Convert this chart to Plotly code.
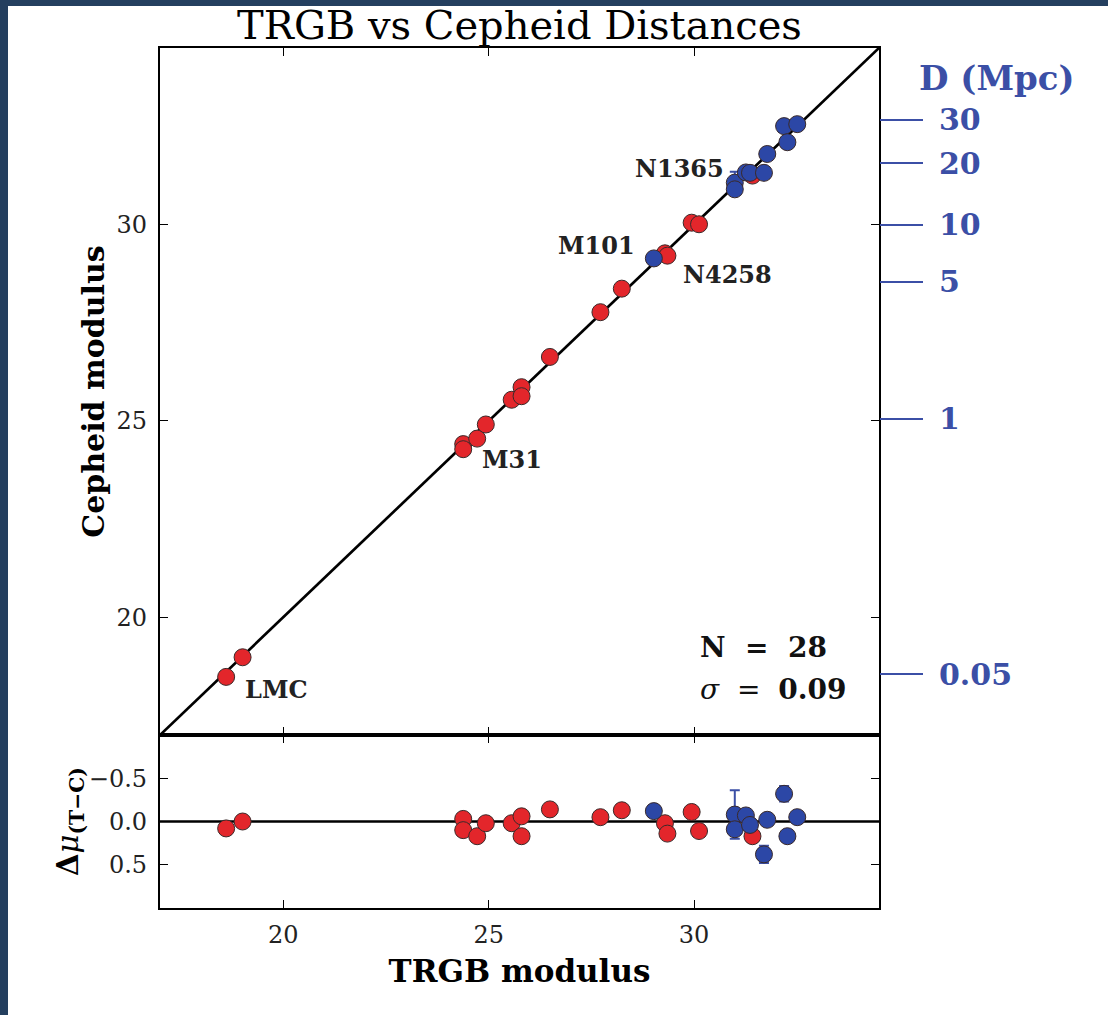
import plotly.graph_objects as go

# ---------------- data ----------------
red_trgb = [18.61, 19.01, 24.38, 24.38, 24.72, 24.93, 25.56, 25.80, 25.80, 26.49,
            27.72, 28.24, 29.29, 29.35, 29.94, 30.12, 31.42]
red_cepheid = [18.48, 18.98, 24.41, 24.28, 24.55, 24.91, 25.54, 25.86, 25.63, 26.63,
               27.77, 28.37, 29.27, 29.21, 30.05, 30.01, 31.25]
red_delta = [0.08, 0.00, -0.03, 0.10, 0.17, 0.02, 0.02, -0.06, 0.17, -0.14,
             -0.05, -0.13, 0.02, 0.14, -0.11, 0.11, 0.17]

blue_trgb = [29.02, 30.99, 30.99, 31.26, 31.36, 31.78, 31.70, 32.19, 32.27, 32.51]
blue_cepheid = [29.14, 31.07, 30.90, 31.33, 31.32, 31.80, 31.32, 32.51, 32.10, 32.56]
blue_delta = [-0.12, -0.08, 0.09, -0.07, 0.04, -0.02, 0.38, -0.32, 0.17, -0.05]
blue_err = [0.0, 0.28, 0.0, 0.0, 0.0, 0.0, 0.10, 0.09, 0.0, 0.0]

one_to_one = [17.0, 34.5]
zero_line_x = [17.0, 34.5]
zero_line_y = [0.0, 0.0]

# distance axis (Mpc) tick positions in modulus units and their labels
dist_tick_mu = [32.67, 31.57, 30.0, 28.54, 25.05, 18.55]
dist_tick_text = ["30", "20", "10", "5", "1", "0.05"]

labels = ["LMC", "M31", "M101", "N4258", "N1365"]
label_x = [19.02, 24.79, 28.61, 29.68, 30.77]
label_y = [18.15, 24.01, 29.48, 28.72, 31.44]
label_anchor = ["left", "left", "right", "left", "right"]

# ---------------- styling ----------------
FONT = "DejaVu Serif"
RED = "#e3262b"
BLUE = "#2c47a6"
LBLUE = "#3b4fa6"
EDGE = "#3a2a2a"
NB = "\u00a0"

fig = go.Figure()

fig.add_trace(go.Scatter(x=one_to_one, y=one_to_one, mode="lines",
                         line=dict(color="black", width=2.7),
                         xaxis="x", yaxis="y", showlegend=False, hoverinfo="skip"))
fig.add_trace(go.Scatter(x=red_trgb, y=red_cepheid, mode="markers",
                         marker=dict(color=RED, size=17, line=dict(color=EDGE, width=1)),
                         xaxis="x", yaxis="y", showlegend=False))
fig.add_trace(go.Scatter(x=blue_trgb, y=blue_cepheid, mode="markers",
                         marker=dict(color=BLUE, size=17, line=dict(color=EDGE, width=1)),
                         error_y=dict(type="data", array=blue_err, visible=True,
                                      color=LBLUE, thickness=2, width=5),
                         xaxis="x", yaxis="y", showlegend=False))

fig.add_trace(go.Scatter(x=zero_line_x, y=zero_line_y, mode="lines",
                         line=dict(color="black", width=2.5),
                         xaxis="x2", yaxis="y2", showlegend=False, hoverinfo="skip"))
fig.add_trace(go.Scatter(x=red_trgb, y=red_delta, mode="markers",
                         marker=dict(color=RED, size=17, line=dict(color=EDGE, width=1)),
                         xaxis="x2", yaxis="y2", showlegend=False))
fig.add_trace(go.Scatter(x=blue_trgb, y=blue_delta, mode="markers",
                         marker=dict(color=BLUE, size=17, line=dict(color=EDGE, width=1)),
                         error_y=dict(type="data", array=blue_err, visible=True,
                                      color=LBLUE, thickness=2, width=5),
                         xaxis="x2", yaxis="y2", showlegend=False))

# invisible trace to activate the distance axis
fig.add_trace(go.Scatter(x=one_to_one, y=one_to_one, mode="lines",
                         line=dict(color="rgba(0,0,0,0)"), xaxis="x", yaxis="y3",
                         showlegend=False, hoverinfo="skip"))

split = 173 / 860

axis_common = dict(showline=True, linecolor="black", linewidth=2.2, mirror="ticks",
                   ticks="inside", ticklen=8, tickwidth=1.2, tickcolor="black",
                   showgrid=False, zeroline=False,
                   tickfont=dict(family=FONT, size=24, color="#222"))

fig.update_layout(
    width=1108, height=1015,
    margin=dict(l=160, r=229, t=48, b=107),
    paper_bgcolor="#243f5f", plot_bgcolor="white",
    font=dict(family=FONT, color="black"),
    title=dict(text="TRGB vs Cepheid Distances", x=0.5, xref="paper",
               y=1 - 25 / 1015, yref="container", yanchor="middle",
               font=dict(family=FONT, size=40, color="black")),
    xaxis=dict(axis_common, domain=[0, 1], anchor="y", range=one_to_one,
               tickvals=[20, 25, 30], showticklabels=False),
    yaxis=dict(axis_common, domain=[split, 1], anchor="x", range=one_to_one,
               tickvals=[20, 25, 30], ticklabelstandoff=6,
               title=dict(text="<b>Cepheid modulus</b>", standoff=3,
                          font=dict(family=FONT, size=30))),
    xaxis2=dict(axis_common, domain=[0, 1], anchor="y2", range=one_to_one,
                tickvals=[20, 25, 30], ticklabelstandoff=4,
                title=dict(text="<b>TRGB modulus</b>", standoff=12,
                           font=dict(family=FONT, size=31))),
    yaxis2=dict(axis_common, domain=[0, split], anchor="x2", range=[1, -1],
                tickvals=[-0.5, 0.0, 0.5], ticktext=["\u22120.5", "0.0", "0.5"],
                ticklabelstandoff=6,
                title=dict(text="<b>\u0394</b><i>\u03bc</i><sub><b>(T\u2212C)</b></sub>",
                           standoff=0, font=dict(family=FONT, size=29))),
    yaxis3=dict(overlaying="y", side="right", anchor="x", range=one_to_one,
                tickvals=dist_tick_mu, ticktext=dist_tick_text,
                ticks="outside", ticklen=43, tickwidth=1.5, tickcolor=LBLUE,
                showline=False, showgrid=False, zeroline=False, ticklabelstandoff=10,
                tickfont=dict(family=FONT, size=30, color=LBLUE, weight="bold")),
)

# white page with a dark strip on the top and left edges
fig.add_shape(type="rect", xref="paper", yref="paper", layer="below",
              x0=(8 - 160) / 719, x1=(1108 - 160) / 719 + 0.01,
              y0=(908 - 1015) / 860 - 0.01, y1=(908 - 6) / 860,
              fillcolor="white", line=dict(width=0))

for t, x, y, a in zip(labels, label_x, label_y, label_anchor):
    fig.add_annotation(x=x, y=y, xref="x", yref="y", text="<b>" + t + "</b>",
                       showarrow=False, xanchor=a, yanchor="middle",
                       font=dict(family=FONT, size=24, color="#222"))

fig.add_annotation(x=30.09, y=19.22, xref="x", yref="y",
                   text="<b>N" + NB + NB + "=" + NB + NB + "28</b>",
                   showarrow=False, xanchor="left", yanchor="middle",
                   font=dict(family=FONT, size=28, color="#111"))
fig.add_annotation(x=30.09, y=18.15, xref="x", yref="y",
                   text="<i>\u03c3</i>" + NB + NB + "=" + NB + NB + "<b>0.09</b>",
                   showarrow=False, xanchor="left", yanchor="middle",
                   font=dict(family=FONT, size=28, color="#111"))

fig.add_annotation(x=(997 - 160) / 719, y=(908 - 78) / 860, xref="paper", yref="paper",
                   text="<b>D (Mpc)</b>", showarrow=False, xanchor="center",
                   yanchor="middle", font=dict(family=FONT, size=34, color=LBLUE))

fig.write_html("out.html")
